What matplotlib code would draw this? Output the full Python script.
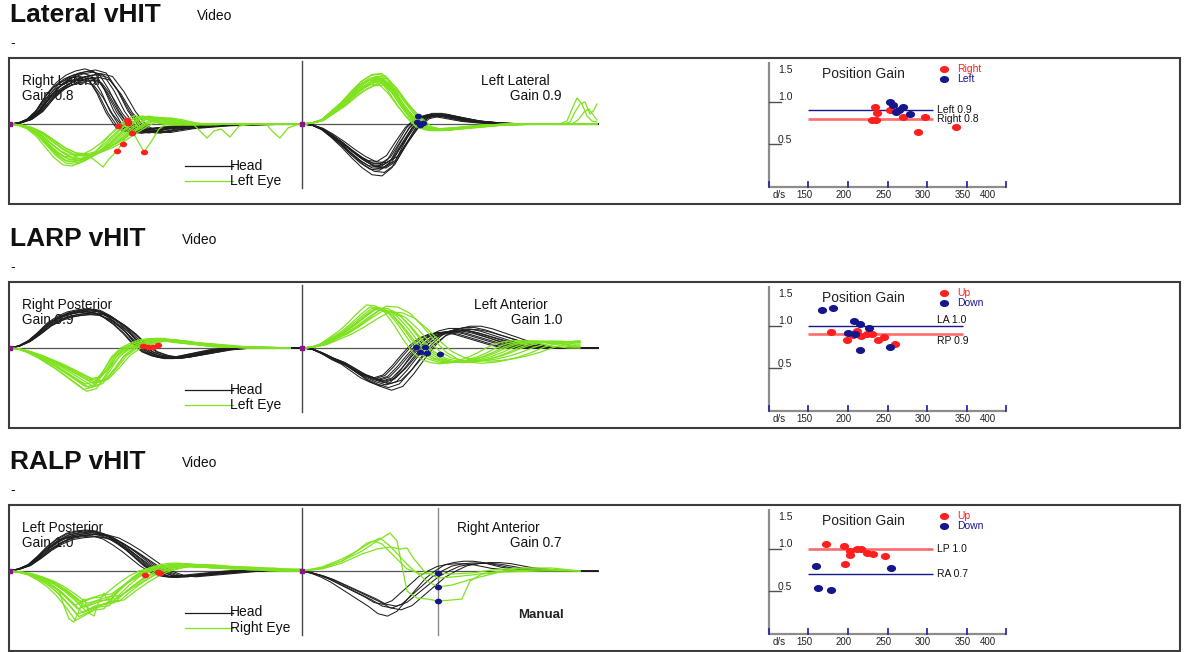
import numpy as np
import matplotlib
matplotlib.use("Agg")
import matplotlib.pyplot as plt
from matplotlib.patches import Rectangle
from matplotlib.path import Path
from matplotlib.transforms import Affine2D

W, H = 1198, 652
plt.rcParams['font.family'] = ['Liberation Sans', 'DejaVu Sans']

# ---------------------------------------------------------------------------
# Averaged impulse templates, velocity in deg/s sampled every 10 ms
# ---------------------------------------------------------------------------
T_MS = np.arange(0, 300, 10)

LAT_R_HEAD = [0, 5, 25, 70, 145, 200, 235, 255, 265, 250, 170, 65, -10, -40, -45,
              -35, -25, -20, -15, -10, -8, -5, -5, -3, 0, 0, 0, 0, 0, 0]
LAT_R_EYE = [0, -5, -20, -50, -95, -140, -170, -175, -160, -135, -100, -55, -15, 20, 35,
             25, 10, 0, -5, 0, 0, 0, 0, 0, 0, 0, 0, 0, 0, 0]
LAT_L_HEAD = [0, -5, -25, -60, -100, -145, -185, -215, -220, -185, -100, -20, 30, 45, 45,
              35, 25, 15, 10, 5, 3, 0, 0, 0, 0, 0, 0, 0, 0, 0]
LAT_L_EYE = [0, 5, 20, 60, 100, 150, 195, 225, 230, 175, 100, 35, -15, -30, -30,
             -25, -20, -15, -10, -5, -5, 0, 0, 0, 0, 0, 0, 0, 0, 0]

LARP_RP_HEAD = [0, 10, 35, 75, 120, 150, 170, 180, 185, 180, 155, 120, 75, 20, -20,
                -40, -50, -50, -40, -30, -20, -10, -5, 0, 0, 0, 0, 0, 0, 0]
LARP_RP_EYE = [0, -5, -20, -40, -65, -90, -120, -150, -180, -170, -110, -40, 0, 20, 35,
               40, 40, 30, 25, 20, 15, 10, 5, 5, 5, 0, 0, 0, 0, 0]
LARP_LA_HEAD = [0, -5, -25, -50, -70, -100, -130, -150, -165, -150, -100, -40, 15, 55, 75,
                85, 85, 75, 60, 45, 30, 15, 5, 0, 0, 0, 0, 0, 0, 0]
LARP_LA_EYE = [0, 5, 20, 50, 80, 120, 165, 205, 200, 170, 110, 40, -20, -55, -70,
               -75, -70, -60, -45, -25, 0, 20, 30, 35, 35, 30, 20, 10, 5, 0]

RALP_LP_HEAD = [0, 10, 30, 70, 115, 150, 175, 185, 190, 185, 170, 140, 105, 65, 25,
                -5, -25, -30, -25, -20, -15, -10, -5, 0, 0, 0, 0, 0, 0, 0]
RALP_LP_EYE = [0, -5, -15, -35, -60, -95, -140, -190, -170, -150, -145, -100, -60, -25, 0,
               15, 25, 30, 30, 25, 20, 20, 15, 15, 10, 10, 5, 5, 0, 0]
RALP_RA_HEAD = [0, -10, -25, -45, -70, -95, -120, -145, -175, -185, -165, -120, -75, -30, 0,
                25, 35, 40, 40, 35, 25, 15, 10, 5, 0, 0, 0, 0, 0, 0]

# per-impulse size factor and timing factor of each recorded impulse
LAT_R_HEAD_AMP = [1.04, 1.0, 0.98, 0.96, 0.93, 0.9, 0.88, 0.85, 0.82, 0.78, 1.02, 0.95, 0.9, 0.86]
LAT_R_HEAD_TIME = [0.95, 1.0, 1.05, 0.92, 1.1, 0.98, 1.12, 0.9, 1.03, 0.94, 1.08, 1.15, 0.88, 1.0]
LAT_R_EYE_AMP = [1.15, 1.05, 1.0, 0.95, 0.9, 1.1, 0.85, 1.2, 0.98, 0.92, 1.08, 0.88]
LAT_R_EYE_TIME = [0.95, 1.0, 1.05, 0.92, 1.1, 0.98, 1.12, 0.9, 1.03, 1.08, 0.94, 1.15]
LAT_L_HEAD_AMP = [1.18, 1.1, 1.05, 1.0, 0.97, 0.95, 0.92, 0.9, 0.88, 0.85, 1.02, 0.98]
LAT_L_HEAD_TIME = [1.0, 1.03, 0.97, 1.05, 0.95, 1.0, 1.02, 0.98, 1.06, 0.94, 1.0, 1.04]
LAT_L_EYE_AMP = [1.1, 1.05, 1.02, 1.0, 0.97, 0.95, 0.92, 0.9, 0.87, 0.85, 1.08, 0.93]
LAT_L_EYE_TIME = [1.0, 1.04, 0.97, 1.06, 0.95, 1.02, 0.99, 1.08, 0.96, 1.03, 0.98, 1.05]

LARP_RP_HEAD_AMP = [1.06, 1.03, 1.0, 0.98, 0.95, 0.93, 0.9, 1.05, 0.97, 0.92, 1.01]
LARP_RP_HEAD_TIME = [0.97, 1.0, 1.03, 0.95, 1.05, 0.99, 1.02, 1.01, 0.96, 1.06, 0.98]
LARP_RP_EYE_AMP = [1.2, 1.1, 1.05, 1.0, 0.95, 0.9, 0.85, 1.15, 0.98, 0.92, 1.08]
LARP_RP_EYE_TIME = [0.97, 1.0, 1.04, 0.95, 1.07, 0.99, 1.02, 0.93, 1.05, 1.1, 0.96]
LARP_LA_HEAD_AMP = [1.28, 1.2, 1.12, 1.05, 1.0, 0.97, 0.95, 0.92, 0.9, 1.08, 1.15, 1.0]
LARP_LA_HEAD_TIME = [1.12, 1.08, 1.05, 1.02, 1.0, 0.97, 0.95, 0.92, 0.9, 1.1, 0.98, 1.04]
LARP_LA_EYE_AMP = [1.05, 1.0, 0.97, 0.95, 0.92, 0.9, 1.02, 0.88, 0.98, 0.94]
LARP_LA_EYE_TIME = [0.92, 0.97, 1.0, 1.05, 1.1, 1.15, 1.2, 1.25, 1.08, 1.02]

RALP_LP_HEAD_AMP = [1.08, 1.04, 1.0, 0.98, 0.96, 0.94, 0.92, 0.9, 1.02, 0.97, 1.06]
RALP_LP_HEAD_TIME = [0.96, 1.0, 1.03, 0.98, 1.05, 0.94, 1.02, 1.07, 0.99, 1.1, 0.97]
RALP_LP_EYE_AMP = [1.3, 1.2, 1.1, 1.05, 1.0, 0.95, 0.9, 0.85, 0.8, 1.15, 1.0]
RALP_LP_EYE_TIME = [0.95, 1.0, 1.05, 1.1, 0.98, 1.08, 0.93, 1.12, 1.02, 0.97, 1.15]
RALP_RA_HEAD_AMP = [1.22, 1.05, 1.0, 0.95, 0.9]
RALP_RA_HEAD_TIME = [0.95, 1.1, 1.0, 1.05, 0.9]

# individual eye recordings with corrective saccades (time ms, deg/s)
LAT_R_SACC_T = [
    [0, 10, 20, 30, 40, 50, 60, 70, 80, 88, 94, 100, 108, 114, 120, 126, 135, 142, 150, 160, 175, 290],
    [0, 10, 20, 30, 40, 50, 60, 70, 80, 90, 100, 110, 120, 130, 140, 150, 170, 185, 192, 198,
     205, 212, 221, 230, 245, 258, 264, 271, 279, 290],
]
LAT_R_SACC_V = [
    [0, -5, -20, -50, -90, -130, -155, -150, -160, -190, -215, -175, -135, -90, -40, -60, -140, -90, -25, 10, 0, 0],
    [0, -5, -25, -60, -110, -150, -175, -180, -165, -140, -100, -50, -10, 25, 40, 25, 0, -5, -40, -70,
     -35, -25, -65, -10, 0, -5, -40, -70, -20, 0],
]
LAT_L_SACC_T = [
    [0, 10, 20, 30, 40, 50, 60, 70, 80, 90, 100, 110, 120, 130, 150, 170, 200, 240, 258, 265, 270, 275, 280, 285, 290, 295],
    [0, 10, 20, 30, 40, 50, 60, 70, 80, 90, 100, 110, 120, 130, 150, 170, 200, 240, 262, 268, 273, 278, 283, 288, 292, 295],
    [0, 10, 20, 30, 40, 50, 60, 70, 80, 90, 100, 110, 120, 130, 150, 170, 200, 240, 270, 276, 282, 287, 292, 295],
]
LAT_L_SACC_V = [
    [0, 5, 20, 60, 100, 150, 195, 225, 230, 175, 100, 35, -15, -30, -25, -15, -5, 0, 0, 15, 75, 130, 100, 40, 15, 10],
    [0, 5, 20, 55, 95, 140, 185, 215, 225, 180, 105, 40, -10, -25, -25, -15, -5, 0, 0, 10, 60, 100, 110, 50, 70, 100],
    [0, 5, 18, 50, 90, 135, 180, 210, 215, 170, 100, 35, -10, -25, -20, -15, -5, 0, 0, 20, 60, 75, 40, 20],
]
RALP_LP_SACC_T = [[0, 10, 20, 30, 40, 50, 55, 60, 65, 70, 75, 80, 85, 90, 95, 100, 105, 110, 120, 130,
                   140, 150, 170, 200, 240, 290]]
RALP_LP_SACC_V = [[0, -5, -15, -35, -60, -100, -175, -240, -255, -200, -140, -210, -225, -150, -110,
                   -160, -125, -90, -50, -20, 0, 15, 25, 20, 10, 0]]
RALP_RA_EYE_T = [
    [0, 20, 40, 60, 75, 88, 95, 100, 105, 115, 125, 136, 150, 160, 168, 180, 200, 240, 278],
    [0, 20, 40, 55, 68, 78, 88, 100, 110, 125, 136, 150, 170, 190, 210, 240, 278],
    [0, 20, 40, 60, 75, 88, 98, 105, 112, 122, 136, 150, 170, 200, 240, 278],
    [0, 20, 40, 55, 65, 72, 80, 92, 105, 120, 136, 150, 170, 190, 220, 250, 278],
]
RALP_RA_EYE_V = [
    [0, 15, 50, 100, 150, 190, 150, 25, -100, -135, -140, -150, -145, -140, -50, -15, -5, 0, 0],
    [0, 15, 50, 100, 140, 165, 125, 60, 10, -50, -80, -70, -40, -15, 10, 10, 0],
    [0, 10, 40, 85, 110, 120, 110, 115, 60, 0, -35, -30, -20, 0, 5, 0],
    [0, 20, 60, 100, 140, 150, 135, 75, 10, -15, -10, -15, -10, 5, 15, 15, 0],
]

# saccade / gain-window markers (time ms from panel start, deg/s)
LAT_R_MARK_T = [108, 114, 135, 109, 119, 123, 118]
LAT_R_MARK_V = [-135, -100, -140, -10, 5, -45, 20]
LAT_L_MARK_T = [115, 118, 121, 116]
LAT_L_MARK_V = [10, -5, 5, 40]
LARP_RP_MARK_T = [134, 139, 144, 149]
LARP_RP_MARK_V = [10, 5, 5, 15]
LARP_LA_MARK_T = [114, 118, 123, 125, 138]
LARP_LA_MARK_V = [5, -20, 5, -25, -30]
RALP_LP_MARK_T = [136, 149, 151]
RALP_LP_MARK_V = [-20, -5, -10]
RALP_RA_MARK_T = [136, 136, 136]
RALP_RA_MARK_V = [-10, -80, -150]

# ---------------------------------------------------------------------------
# Position gain: peak head velocity (deg/s) and gain of each impulse
# ---------------------------------------------------------------------------
LAT_RIGHT_VEL = [234, 237, 230, 236, 253, 270, 298, 288, 337]
LAT_RIGHT_GAIN = [0.94, 0.87, 0.79, 0.79, 0.91, 0.82, 0.82, 0.65, 0.70]
LAT_LEFT_VEL = [253, 257, 269, 261, 278, 264]
LAT_LEFT_GAIN = [1.00, 0.97, 0.94, 0.88, 0.86, 0.91]
LARP_UP_VEL = [178, 199, 209, 211, 217, 224, 231, 238, 245, 259, 206]
LARP_UP_GAIN = [0.93, 0.84, 0.92, 0.94, 0.88, 0.90, 0.91, 0.84, 0.87, 0.79, 0.89]
LARP_DOWN_VEL = [167, 181, 207, 215, 227, 200, 215, 253, 209]
LARP_DOWN_GAIN = [1.19, 1.21, 1.06, 1.02, 0.98, 0.92, 0.72, 0.75, 0.91]
RALP_UP_VEL = [172, 195, 202, 202, 212, 216, 224, 232, 247, 196]
RALP_UP_GAIN = [1.06, 1.03, 0.98, 0.93, 1.00, 1.00, 0.95, 0.94, 0.92, 0.82]
RALP_DOWN_VEL = [160, 162, 178, 254]
RALP_DOWN_GAIN = [0.80, 0.54, 0.52, 0.78]

GAIN_VALUES = {"Left": 0.9, "Right": 0.8, "LA": 1.0, "RP": 0.9, "LP": 1.0, "RA": 0.7}
VEL_TICKS = [100, 150, 200, 250, 300, 350, 400]
VEL_TICK_LABELS = ["d/s", "150", "200", "250", "300", "350", "400"]

# ---------------------------------------------------------------------------
RED = "#ff1f1f"
LINE_RED = "#ff6a6a"
NAVY = "#16168c"
GREEN = "#7ee21e"
HEAD_C = "#1e1e1e"
FRAME_C = "#3c3c3c"
DOT_MS = 5.6

ELLIPSE = Path.unit_circle().transformed(Affine2D().scale(1.0, 0.72))

ROWS = [
    dict(top=58, title="Lateral vHIT", video_x=197,
         left=dict(name="Right Lateral", gain="Gain 0.8", head=LAT_R_HEAD, eye=LAT_R_EYE,
                   hamp=LAT_R_HEAD_AMP, htime=LAT_R_HEAD_TIME, eamp=LAT_R_EYE_AMP, etime=LAT_R_EYE_TIME,
                   extra_t=LAT_R_SACC_T, extra_v=LAT_R_SACC_V, eye_end=290,
                   mt=LAT_R_MARK_T, mv=LAT_R_MARK_V),
         right=dict(name="Left Lateral", gain="Gain 0.9", head=LAT_L_HEAD, eye=LAT_L_EYE,
                    hamp=LAT_L_HEAD_AMP, htime=LAT_L_HEAD_TIME, eamp=LAT_L_EYE_AMP, etime=LAT_L_EYE_TIME,
                    extra_t=LAT_L_SACC_T, extra_v=LAT_L_SACC_V, eye_end=295,
                    mt=LAT_L_MARK_T, mv=LAT_L_MARK_V, name_right=550),
         eye_label="Left Eye",
         legend=("Right", "Left"),
         red=(LAT_RIGHT_VEL, LAT_RIGHT_GAIN), blue=(LAT_LEFT_VEL, LAT_LEFT_GAIN),
         lines=[("Left", NAVY, 1.0, 308, 0), ("Right", LINE_RED, 1.9, 308, 0)]),
    dict(top=282, title="LARP vHIT", video_x=182,
         left=dict(name="Right Posterior", gain="Gain 0.9", head=LARP_RP_HEAD, eye=LARP_RP_EYE,
                   hamp=LARP_RP_HEAD_AMP, htime=LARP_RP_HEAD_TIME, eamp=LARP_RP_EYE_AMP,
                   etime=LARP_RP_EYE_TIME, extra_t=[], extra_v=[], eye_end=281,
                   mt=LARP_RP_MARK_T, mv=LARP_RP_MARK_V),
         right=dict(name="Left Anterior", gain="Gain 1.0", head=LARP_LA_HEAD, eye=LARP_LA_EYE,
                    hamp=LARP_LA_HEAD_AMP, htime=LARP_LA_HEAD_TIME, eamp=LARP_LA_EYE_AMP,
                    etime=LARP_LA_EYE_TIME, extra_t=[], extra_v=[], eye_end=278,
                    mt=LARP_LA_MARK_T, mv=LARP_LA_MARK_V, name_right=548),
         eye_label="Left Eye",
         legend=("Up", "Down"),
         red=(LARP_UP_VEL, LARP_UP_GAIN), blue=(LARP_DOWN_VEL, LARP_DOWN_GAIN),
         lines=[("LA", NAVY, 1.0, 346, 6), ("RP", LINE_RED, 1.9, 346, -7)]),
    dict(top=505, title="RALP vHIT", video_x=182,
         left=dict(name="Left Posterior", gain="Gain 1.0", head=RALP_LP_HEAD, eye=RALP_LP_EYE,
                   hamp=RALP_LP_HEAD_AMP, htime=RALP_LP_HEAD_TIME, eamp=RALP_LP_EYE_AMP,
                   etime=RALP_LP_EYE_TIME, extra_t=RALP_LP_SACC_T, extra_v=RALP_LP_SACC_V,
                   eye_end=292, mt=RALP_LP_MARK_T, mv=RALP_LP_MARK_V),
         right=dict(name="Right Anterior", gain="Gain 0.7", head=RALP_RA_HEAD, eye=None,
                    hamp=RALP_RA_HEAD_AMP, htime=RALP_RA_HEAD_TIME, eamp=[], etime=[],
                    extra_t=RALP_RA_EYE_T, extra_v=RALP_RA_EYE_V, eye_end=278,
                    mt=RALP_RA_MARK_T, mv=RALP_RA_MARK_V, name_right=540),
         eye_label="Right Eye",
         legend=("Up", "Down"),
         red=(RALP_UP_VEL, RALP_UP_GAIN), blue=(RALP_DOWN_VEL, RALP_DOWN_GAIN),
         lines=[("LP", LINE_RED, 1.9, 308, 0), ("RA", NAVY, 1.0, 308, 0)]),
]

BOX_H = 146
fig = plt.figure(figsize=(W / 100, H / 100), dpi=100)
fig.patch.set_facecolor("white")

canvas = fig.add_axes([0, 0, 1, 1], zorder=0)
canvas.set_xlim(0, W)
canvas.set_ylim(H, 0)
canvas.axis("off")


def px_axes(x0, y0, x1, y1, z=2):
    ax = fig.add_axes([x0 / W, 1 - y1 / H, (x1 - x0) / W, (y1 - y0) / H], zorder=z)
    ax.patch.set_visible(False)
    ax.axis("off")
    return ax


def family(ax, base, amps, times, x0, t_end, color, lw):
    base = np.asarray(base, dtype=float)
    for a, s in zip(amps, times):
        t = T_MS * s
        keep = t <= t_end
        tt = np.append(t[keep], t_end)
        vv = np.append(base[keep] * a, base[keep][-1] * a)
        ax.plot(x0 + tt, vv, color=color, lw=lw, solid_joinstyle="round")


def single(ax, ts, vs, x0, color, lw):
    for t, v in zip(ts, vs):
        ax.plot(x0 + np.asarray(t), v, color=color, lw=lw, solid_joinstyle="round")


for row in ROWS:
    top = row["top"]

    # headings
    canvas.text(10, top - 36, row["title"], fontsize=19, fontweight="bold", va="baseline", color="#111")
    canvas.text(row["video_x"], top - 38, "Video", fontsize=10, va="baseline", color="#111")
    canvas.text(10, top - 11, "-", fontsize=10, va="baseline", color="#111")

    # frame
    canvas.add_patch(Rectangle((9, top), 1180 - 9, BOX_H, fill=False, ec=FRAME_C, lw=1.5))

    # panel captions (drawn beneath the traces)
    L, R = row["left"], row["right"]
    canvas.text(22, top + 27, L["name"], fontsize=9.8, va="baseline", color="#111")
    canvas.text(22, top + 42, L["gain"], fontsize=9.8, va="baseline", color="#111")
    canvas.text(R["name_right"], top + 27, R["name"], fontsize=9.8, va="baseline", ha="right", color="#111")
    canvas.text(562, top + 42, R["gain"], fontsize=9.8, va="baseline", ha="right", color="#111")

    # trace legend
    canvas.plot([185, 233], [top + 107.5] * 2, color=HEAD_C, lw=0.9)
    canvas.plot([185, 233], [top + 123] * 2, color=GREEN, lw=0.9)
    canvas.text(230, top + 107.5, "Head", fontsize=10, va="center", color="#111")
    canvas.text(230, top + 123, row["eye_label"], fontsize=10, va="center", color="#111")

    # ---- velocity traces ----
    ax = px_axes(9, top, 599, top + BOX_H)
    ax.set_xlim(0, 590)
    ax.set_ylim(-400, 330)
    ax.plot([0, 589], [0, 0], color="#555555", lw=0.9)
    ax.plot([293, 293], [315, -320], color="#4a4a4a", lw=1.0)
    if row["title"].startswith("RALP"):
        ax.plot([429, 429], [315, -320], color="#8a8a8a", lw=1.0)
        canvas.text(518, top + 113, "Manual", fontsize=9.5, fontweight="bold", va="baseline", color="#222")

    for panel, x0, h_end in ((L, 0, 292), (R, 293, 296)):
        family(ax, panel["head"], panel["hamp"], panel["htime"], x0, h_end, HEAD_C, 0.75)
    for panel, x0 in ((L, 0), (R, 293)):
        if panel["eye"] is not None:
            family(ax, panel["eye"], panel["eamp"], panel["etime"], x0, panel["eye_end"], GREEN, 0.9)
        single(ax, panel["extra_t"], panel["extra_v"], x0, GREEN, 0.9)

    ax.plot(np.asarray(L["mt"]), L["mv"], ls="none", marker=ELLIPSE, ms=4.2, color=RED, zorder=5)
    ax.plot(293 + np.asarray(R["mt"]), R["mv"], ls="none", marker=ELLIPSE, ms=4.2, color=NAVY, zorder=5)
    ax.plot([1, 293], [0, 0], ls="none", marker="s", ms=2.6, color="#8a158a", zorder=6)

    # ---- position gain scatter ----
    sx = px_axes(760, top, 1010, top + BOX_H)
    sx.set_xlim(88.61, 405.06)
    sx.set_ylim(-0.2, 1.5176)
    axis_c = "#8c8c8c"
    sx.plot([100, 100], [0, 1.47], color=axis_c, lw=1.6, solid_capstyle="butt")
    sx.plot([100, 400], [0, 0], color=axis_c, lw=1.6, solid_capstyle="butt")
    for v in VEL_TICKS:
        sx.plot([v, v], [0, 0.06], color="#2a2aa8", lw=1.3)
    for g in (1.0, 0.5):
        sx.plot([100, 115], [g, g], color="#505050", lw=1.0)
    for lab, v in zip(VEL_TICK_LABELS, VEL_TICKS):
        dx = 10 if lab == "d/s" else (-18 if lab == "400" else -4)
        sx.annotate(lab, (v, 0), xytext=(dx * 0.72, -8 * 0.72), textcoords="offset points",
                    ha="center", va="center", fontsize=7, color="#222")
    for lab, g, dy in (("1.5", 1.5, -11), ("1.0", 1.0, 5), ("0.5", 0.5, 4.5)):
        sx.annotate(lab, (100, g), xytext=(9 * 0.72, dy * 0.72), textcoords="offset points",
                    ha="left", va="center", fontsize=7.5, color="#222")

    sx.text(167, 1.286, "Position Gain", fontsize=10, va="baseline", color="#222")
    sx.plot([321.5], [1.388], ls="none", marker=ELLIPSE, ms=DOT_MS, color=RED)
    sx.plot([321.5], [1.27], ls="none", marker=ELLIPSE, ms=DOT_MS, color=NAVY)
    sx.text(338, 1.388, row["legend"][0], fontsize=7.5, va="center", color=RED)
    sx.text(338, 1.27, row["legend"][1], fontsize=7.5, va="center", color=NAVY)

    for key, col, lw, v_end, dy in row["lines"]:
        g = GAIN_VALUES[key]
        sx.plot([150, v_end], [g, g], color=col, lw=lw, solid_capstyle="butt", zorder=2)
        sx.annotate(f"{key} {g:.1f}", (312.7, g), xytext=(0, dy * 0.72), textcoords="offset points",
                    ha="left", va="center", fontsize=7.5, color="#111", zorder=4)

    sx.plot(row["red"][0], row["red"][1], ls="none", marker=ELLIPSE, ms=DOT_MS, color=RED, zorder=3)
    sx.plot(row["blue"][0], row["blue"][1], ls="none", marker=ELLIPSE, ms=DOT_MS, color=NAVY, zorder=3)

fig.savefig("out.png", dpi=100, facecolor="white")
